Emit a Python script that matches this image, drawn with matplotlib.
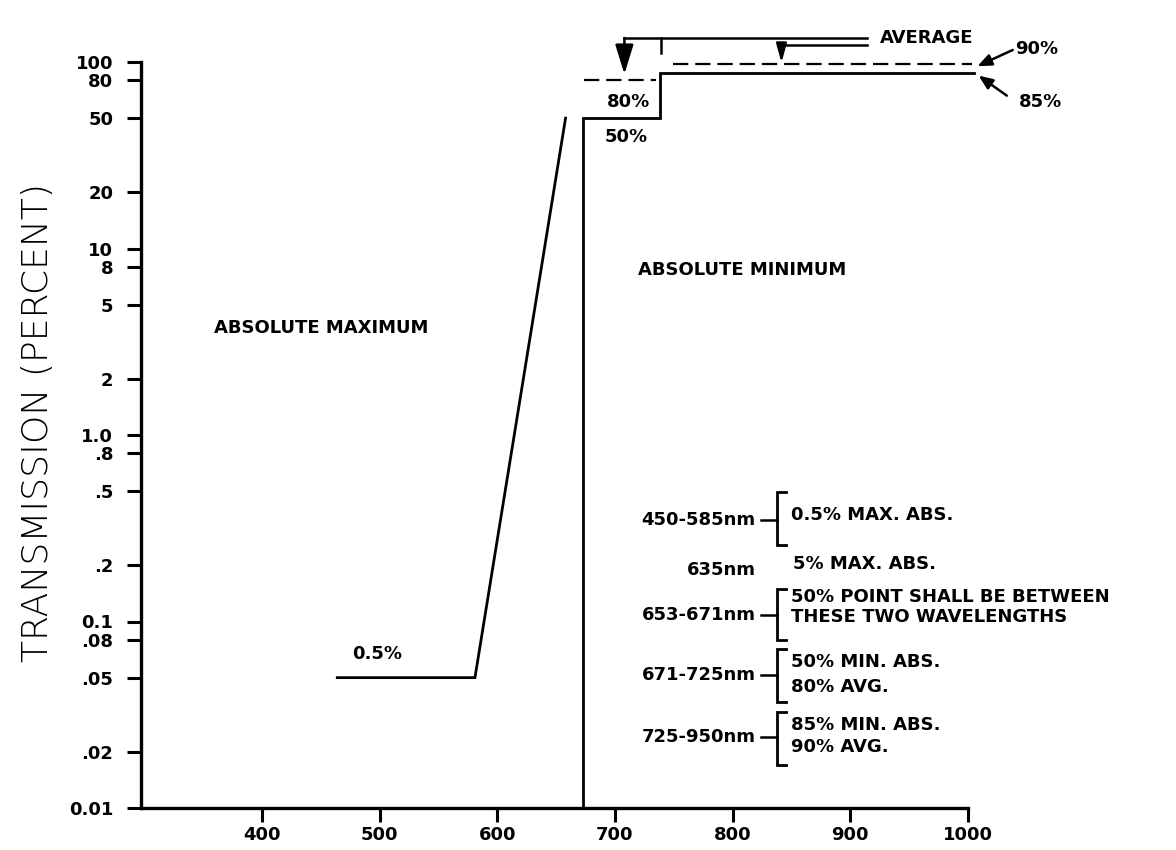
import matplotlib
matplotlib.use('Agg')
import matplotlib.pyplot as plt

plt.rcParams['font.family'] = ['DejaVu Sans']
plt.rcParams['lines.scale_dashes'] = False

# ---------------- data ----------------
y_ticks = [100, 80, 50, 20, 10, 8, 5, 2, 1.0, 0.8, 0.5, 0.2, 0.1, 0.08, 0.05, 0.02, 0.01]
y_tick_labels = ['100', '80', '50', '20', '10', '8', '5', '2', '1.0', '.8', '.5', '.2',
                 '0.1', '.08', '.05', '.02', '0.01']
x_ticks = [400, 500, 600, 700, 800, 900, 1000]
x_tick_labels = ['400', '500', '600', '700', '800', '900', '1000']

# absolute maximum curve (wavelength nm, transmission %)
max_nm = [464, 581, 658]
max_pct = [0.05, 0.05, 50]
# absolute minimum curve
min_nm = [673, 673, 738, 738, 1005]
min_pct = [0.01, 50, 50, 87, 87]
# average requirements (dashed)
avg80_nm = [674, 735]
avg80_pct = [80, 80]
avg90_nm = [749, 1003]
avg90_pct = [97, 97]

# specification table
spec_ranges = ['450-585nm', '635nm', '653-671nm', '671-725nm', '725-950nm']
spec_texts = ['0.5% MAX. ABS.', '5% MAX. ABS.',
              '50% POINT SHALL BE BETWEEN\nTHESE TWO WAVELENGTHS',
              '50% MIN. ABS.\n80% AVG.', '85% MIN. ABS.\n90% AVG.']
spec_label_y = [0.349, 0.189, 0.108, 0.0516, 0.024]
spec_text_y = [[0.372], [0.203], [0.135, 0.1056], [0.0606, 0.0445], [0.0279, 0.0212]]
spec_bracket = [(0.494, 0.257), None, (0.149, 0.0795), (0.0711, 0.037), (0.0327, 0.0170)]

# ---------------- figure ----------------
fig = plt.figure(figsize=(11.76, 8.5), dpi=100)
ax = fig.add_axes([141 / 1176, 42 / 850, 827 / 1176, 746 / 850])
ax.set_yscale('log')
ax.set_xlim(297.2, 1000)
ax.set_ylim(0.01, 100)

for s in ['top', 'right']:
    ax.spines[s].set_visible(False)
for s in ['left', 'bottom']:
    ax.spines[s].set_linewidth(2.4)

ax.set_yticks(y_ticks)
ax.set_yticklabels(y_tick_labels)
ax.yaxis.set_minor_locator(matplotlib.ticker.NullLocator())
ax.set_xticks(x_ticks)
ax.set_xticklabels(x_tick_labels)
ax.tick_params(axis='y', direction='out', length=10, width=2.2, pad=10,
               labelsize=13)
ax.tick_params(axis='x', direction='out', length=10, width=2.2, pad=3,
               labelsize=13)
for lab in ax.get_xticklabels() + ax.get_yticklabels():
    lab.set_fontweight('bold')

lw = 2.0
ax.plot(max_nm, max_pct, color='black', lw=lw, clip_on=False, solid_joinstyle='miter')
ax.plot(min_nm, min_pct, color='black', lw=lw, clip_on=False, solid_joinstyle='miter')
ax.plot(avg80_nm, avg80_pct, color='black', lw=1.6, ls=(0, (11, 5)), clip_on=False)
ax.plot(avg90_nm, avg90_pct, color='black', lw=1.6, ls=(0, (11, 5)), clip_on=False)

tkw = dict(fontsize=13, fontweight='bold', color='black')
ax.text(359.3, 3.73, 'ABSOLUTE MAXIMUM', ha='left', va='center', **tkw)
ax.text(719.8, 7.7, 'ABSOLUTE MINIMUM', ha='left', va='center', **tkw)
ax.text(497.7, 0.0666, '0.5%', ha='center', va='center', **tkw)
ax.text(711.5, 60.7, '80%', ha='center', va='center', **tkw)
ax.text(709.3, 39.4, '50%', ha='center', va='center', **tkw)
ax.text(925, 134, 'AVERAGE', ha='left', va='center', **tkw)
ax.text(1040, 117.7, '90%', ha='left', va='center', **tkw)
ax.text(1043, 61, '85%', ha='left', va='center', **tkw)

# AVERAGE leader lines
ax.plot([708, 914], [134, 134], color='black', lw=1.8, clip_on=False)
ax.plot([739, 739], [134, 112], color='black', lw=1.8, clip_on=False)
ax.annotate('', xy=(708, 86), xytext=(708, 134.5), annotation_clip=False,
            arrowprops=dict(arrowstyle='-|>,head_length=1.3,head_width=0.4',
                            mutation_scale=14, color='black', lw=1.8,
                            shrinkA=0, shrinkB=0))
ax.plot([841.5, 914], [124, 124], color='black', lw=1.8, clip_on=False)
ax.annotate('', xy=(841.5, 99), xytext=(841.5, 124.5), annotation_clip=False,
            arrowprops=dict(arrowstyle='-|>,head_length=0.8,head_width=0.22',
                            mutation_scale=14, color='black', lw=1.8,
                            shrinkA=0, shrinkB=0))
# 90% / 85% pointers
ax.annotate('', xy=(1008, 95), xytext=(1038, 116), annotation_clip=False,
            arrowprops=dict(arrowstyle='-|>,head_length=0.6,head_width=0.25',
                            mutation_scale=14, color='black', lw=1.8,
                            shrinkA=0, shrinkB=0))
ax.annotate('', xy=(1009, 84.5), xytext=(1033, 66), annotation_clip=False,
            arrowprops=dict(arrowstyle='-|>,head_length=0.6,head_width=0.25',
                            mutation_scale=14, color='black', lw=1.8,
                            shrinkA=0, shrinkB=0))

# specification table
label_right = 819.5
dash_start = 823.7
bracket_x = 837.3
serif_end = 845.0
desc_left = 849.2
for rng, txt, ly, tys, br in zip(spec_ranges, spec_texts, spec_label_y,
                                 spec_text_y, spec_bracket):
    ax.text(label_right, ly, rng, ha='right', va='center', **tkw)
    if br is None:
        ax.text(desc_left + 2, tys[0], txt, ha='left', va='center', **tkw)
        continue
    ax.plot([dash_start, bracket_x], [ly, ly], color='black', lw=1.8, clip_on=False)
    top, bot = br
    ax.plot([serif_end, bracket_x, bracket_x, serif_end], [top, top, bot, bot],
            color='black', lw=2.0, clip_on=False, solid_joinstyle='miter')
    for line, ty in zip(txt.split('\n'), tys):
        ax.text(desc_left, ty, line, ha='left', va='center', **tkw)

fig.text(38 / 1176, 1 - 422 / 850, 'TRANSMISSION (PERCENT)', rotation=90,
         ha='center', va='center', fontsize=26, fontweight='light',
         family=['Liberation Sans Narrow', 'DejaVu Sans Condensed', 'DejaVu Sans'])

fig.savefig('out.png', dpi=100, facecolor='white')
